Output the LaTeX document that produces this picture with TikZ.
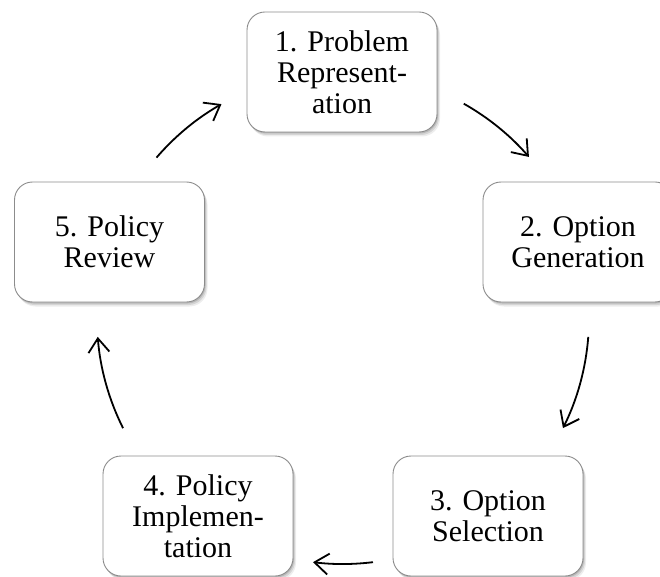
\documentclass[tikz,border=0pt]{standalone}
\usepackage{fontspec}
\setmainfont{Liberation Serif}
\usetikzlibrary{arrows.meta,shadows}
\tikzset{
  stagebox/.style={draw=black!45, line width=0.9pt, fill=white, rounded corners=18pt,
    minimum width=190pt, minimum height=120pt, inner sep=0pt, align=center,
    font=\fontsize{30}{31}\selectfont,
    drop shadow={shadow xshift=3pt,shadow yshift=-4.5pt,opacity=0.07,fill=black},
    drop shadow={shadow xshift=2pt,shadow yshift=-3pt,opacity=0.10,fill=black},
    drop shadow={shadow xshift=1pt,shadow yshift=-1.5pt,opacity=0.14,fill=black}},
  cyc/.style={line width=1.8pt, -{Straight Barb[length=14pt,width=21pt]}}
}
\begin{document}
\begin{tikzpicture}[x=1pt,y=1pt]
\useasboundingbox (0,0) rectangle (660,576);
\clip (0,0) rectangle (660,576);
\node[stagebox] (n1) at (342,504) {1. Problem\\Represent-\\ation};
\node[stagebox] (n2) at (578,334) {2. Option\\Generation};
\node[stagebox] (n3) at (488,60) {3. Option\\Selection};
\node[stagebox] (n4) at (198,60) {4. Policy\\Implemen-\\tation};
\node[stagebox] (n5) at (109.5,334) {5. Policy\\Review};
\coordinate (O) at (343,258);
\coordinate (s1) at ([shift={(60.6:246pt)}]O);
\coordinate (s2) at ([shift={(-4.4:246pt)}]O);
\coordinate (s3) at ([shift={(-83:246pt)}]O);
\coordinate (s4) at ([shift={(-153.4:246pt)}]O);
\coordinate (s5) at ([shift={(139.3:246pt)}]O);
\draw[cyc] (s1) arc[start angle=60.6, end angle=40.9, radius=246pt];
\draw[cyc] (s2) arc[start angle=-4.4, end angle=-26.6, radius=246pt];
\draw[cyc] (s3) arc[start angle=-83, end angle=-97, radius=246pt];
\draw[cyc] (s4) arc[start angle=-153.4, end angle=-175.6, radius=246pt];
\draw[cyc] (s5) arc[start angle=139.3, end angle=119.6, radius=246pt];
\end{tikzpicture}
\end{document}
